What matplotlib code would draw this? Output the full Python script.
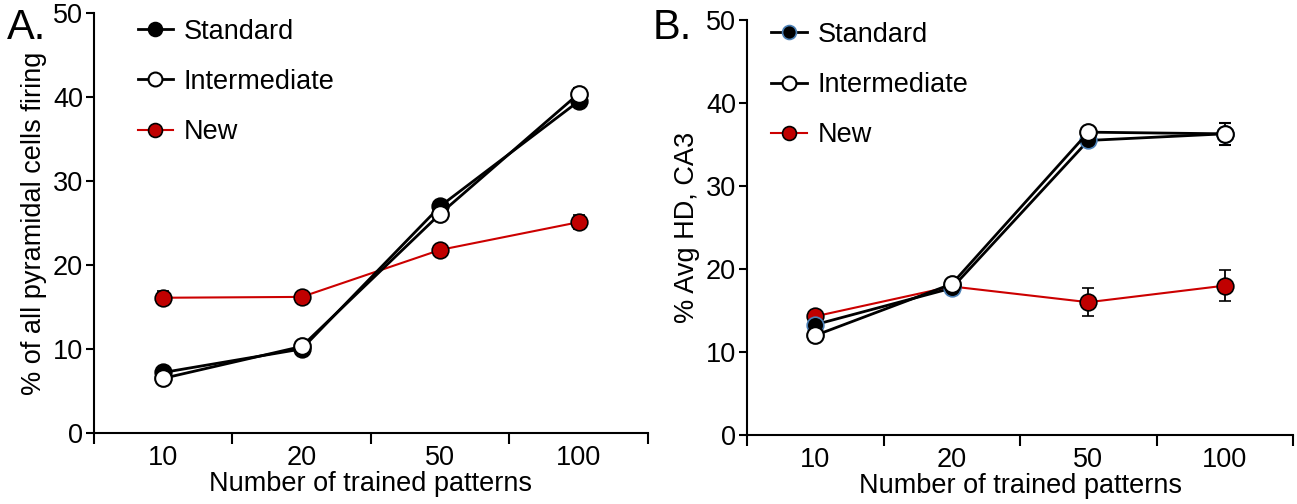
import matplotlib.pyplot as plt
from matplotlib.lines import Line2D
import numpy as np

plt.rcParams['font.family'] = ['Liberation Sans', 'DejaVu Sans']

patterns = ["10", "20", "50", "100"]

# panel A: % of all pyramidal cells firing
a_standard = [7.2, 10.0, 27.0, 39.5]
a_standard_err = [0.3, 0.3, 0.6, 0.5]
a_inter = [6.5, 10.3, 26.1, 40.4]
a_inter_err = [0.3, 0.3, 0.5, 0.7]
a_new = [16.1, 16.2, 21.8, 25.1]
a_new_err = [0.8, 0.3, 0.4, 0.8]

# panel B: % Avg HD, CA3
b_standard = [13.3, 17.7, 35.5, 36.3]
b_standard_err = [0.4, 0.5, 0.4, 0.5]
b_inter = [12.0, 18.2, 36.5, 36.3]
b_inter_err = [0.3, 0.4, 0.3, 1.3]
b_new = [14.3, 17.9, 16.0, 18.0]
b_new_err = [0.4, 0.4, 1.7, 1.9]

fig = plt.figure(figsize=(12.97, 5.04), dpi=100)
axA = fig.add_axes([0.0725, 0.141, 0.427, 0.833])
axB = fig.add_axes([0.576, 0.137, 0.421, 0.823])

x = np.arange(len(patterns))
fs = 19.5


def draw(ax, std, std_e, inter, inter_e, new, new_e, std_edge, ylabel, leg_anchor):
    new_style = dict(color='#cc0000', lw=1.5, marker='o', ms=12,
                     mfc='#c00000', mec='black', mew=1.2)
    std_style = dict(color='black', lw=2, marker='o', ms=12,
                     mfc='black', mec=std_edge, mew=1.2)
    inter_style = dict(color='black', lw=2, marker='o', ms=12,
                       mfc='white', mec='black', mew=1.5)
    err = dict(ecolor='black', elinewidth=1.3, capsize=4)
    ax.errorbar(x, new, yerr=new_e, zorder=3, **new_style, **err)
    ax.errorbar(x, std, yerr=std_e, zorder=4, **std_style, **err)
    ax.errorbar(x, inter, yerr=inter_e, zorder=5, **inter_style, **err)
    ax.set_xlim(-0.5, 3.5)
    ax.set_ylim(0, 50)
    ax.set_yticks(np.arange(0, 51, 10))
    ax.set_xticks(np.arange(-0.5, 3.6, 1.0))
    ax.set_xticklabels([])
    ax.set_xticks(x, minor=True)
    ax.set_xticklabels(patterns, minor=True)
    ax.tick_params(axis='x', which='minor', length=0, labelsize=fs, pad=9)
    ax.tick_params(axis='x', which='major', length=8, width=1.5)
    ax.tick_params(axis='y', length=6, width=1.5, labelsize=fs, pad=2)
    for s in ['top', 'right']:
        ax.spines[s].set_visible(False)
    for s in ['left', 'bottom']:
        ax.spines[s].set_linewidth(1.5)
    ax.set_xlabel("Number of trained patterns", fontsize=fs, labelpad=0)
    ax.set_ylabel(ylabel, fontsize=fs, labelpad=4)
    handles = [Line2D([], [], ms=10, **{k: v for k, v in std_style.items() if k != 'ms'}),
               Line2D([], [], ms=10, **{k: v for k, v in inter_style.items() if k != 'ms'}),
               Line2D([], [], ms=10, **{k: v for k, v in new_style.items() if k != 'ms'})]
    ax.legend(handles, ["Standard", "Intermediate", "New"], loc='upper left',
              bbox_to_anchor=leg_anchor, frameon=False, fontsize=fs,
              labelspacing=0.9, handlelength=1.3, handletextpad=0.4)


draw(axA, a_standard, a_standard_err, a_inter, a_inter_err, a_new, a_new_err,
     'black', "% of all pyramidal cells firing", (0.035, 1.045))
draw(axB, b_standard, b_standard_err, b_inter, b_inter_err, b_new, b_new_err,
     '#4a7fb5', "% Avg HD, CA3", (0.0, 1.055))

fig.text(0.005, 0.985, "A.", fontsize=30, va='top', ha='left')
fig.text(0.503, 0.985, "B.", fontsize=30, va='top', ha='left')

fig.savefig("out.png", dpi=100)
